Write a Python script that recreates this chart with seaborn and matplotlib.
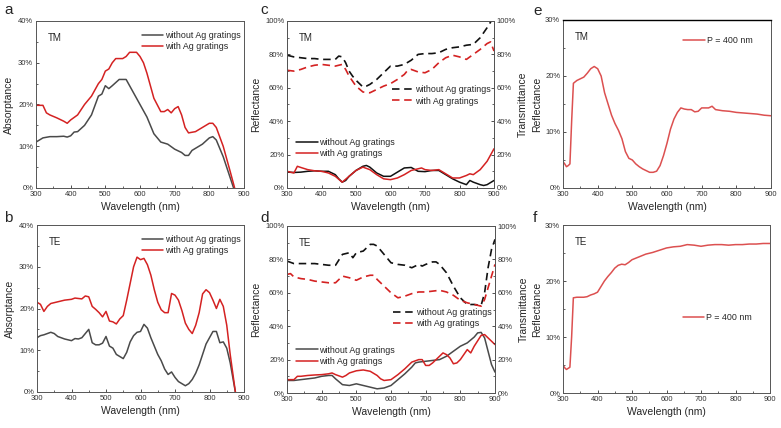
import numpy as np
import pandas as pd
import matplotlib
matplotlib.use("Agg")
import matplotlib.pyplot as plt
from matplotlib.ticker import PercentFormatter, MultipleLocator
import seaborn as sns

# ---- panel a: TM absorptance ----
a_wl_no = [300, 320, 340, 360, 380, 390, 400, 410, 420, 440, 460, 480, 490, 500, 510, 520, 540, 560,
           580, 600, 620, 640, 660, 680, 700, 720, 730, 740, 750, 760, 780, 800, 810, 820, 840, 860, 870]
a_no = [11, 12, 12.3, 12.3, 12.4, 12.2, 12.5, 13.4, 13.5, 15, 17.5, 22, 22.5, 24.5, 23.8, 24.5, 26, 26,
        23, 20, 17, 13, 11, 10.5, 9.3, 8.5, 7.8, 7.8, 9, 9.5, 10.5, 12, 12.3, 11.5, 7.5, 2.5, 0]
a_wl_ag = [300, 320, 330, 340, 360, 380, 390, 400, 420, 440, 460, 480, 490, 500, 510, 520, 530, 540, 550,
           560, 570, 590, 600, 610, 620, 640, 660, 670, 680, 690, 700, 710, 720, 730, 740, 760, 780,
           800, 810, 820, 840, 860, 873]
a_ag = [19.8, 19.8, 18, 17.5, 16.8, 16, 15.5, 16.3, 17.5, 20, 22, 25, 26, 28, 28.5, 30, 31, 31, 31,
        31.5, 32.5, 32.5, 31.5, 30, 27.5, 21.5, 18.3, 18.3, 18.8, 18, 19, 19.5, 17.5, 14.5, 13.2, 13.5, 14.5,
        15.5, 15.5, 14.5, 10, 4, 0]

# ---- panel b: TE absorptance ----
b_wl = [300, 310, 320, 330, 340, 350, 360, 380, 400, 410, 420, 430, 440, 450, 460, 470, 480, 490, 500,
        510, 520, 530, 540, 550, 560, 570, 580, 590, 600, 610, 620, 630, 640, 650, 660, 670, 680, 690,
        700, 710, 720, 730, 740, 750, 760, 770, 780, 790, 800, 810, 820, 830, 840, 850, 860, 875]
b_no = [13, 13.5, 13.7, 14, 14.3, 14, 13.3, 12.7, 12.3, 12.8, 12.7, 13, 14, 15, 11.8, 11.3, 11.3, 11.7, 13.3,
        11, 10.5, 9, 8.5, 8, 9.5, 12, 13.5, 14.3, 14.5, 16.2, 15.3, 13, 11, 9, 7.5, 5.5, 4.2, 4.8,
        3.5, 2.5, 2, 1.5, 2, 3, 4.5, 6.5, 9, 11.5, 13, 14.5, 14.5, 11.8, 12, 10.5, 7, 0]
b_ag = [21.5, 21, 19.3, 20.5, 21.2, 21.4, 21.6, 22, 22.2, 22.5, 22.4, 22.3, 23, 22.8, 20.5, 19.8, 19, 18, 19.3,
        17, 16.8, 16.3, 17.5, 18.3, 22, 26, 30, 32.3, 31.7, 32, 30.5, 28, 24.5, 21.5, 19.7, 19, 19, 23.6,
        23.2, 22, 19.5, 16.5, 15, 14, 16, 19, 23.5, 24.5, 23.8, 22, 20, 22.2, 20.5, 16, 9, 0]

# ---- panel c: TM reflectance (solid) / transmittance (dashed) ----
c_wl_t_no = [300, 320, 340, 360, 380, 400, 420, 440, 450, 460, 470, 480, 490, 500, 520, 530, 540, 560, 580,
             600, 620, 640, 660, 680, 700, 720, 740, 760, 780, 800, 820, 840, 860, 880, 892]
c_t_no = [79.5, 78.5, 78, 77.5, 77.5, 77, 77, 77, 79, 78.5, 75, 70, 67, 64.5, 60.5, 61, 62, 65, 69,
          73, 73, 74, 76.5, 80, 80.5, 80.5, 81, 83, 84, 84.5, 85.5, 86, 90, 96, 100]
c_wl_t_ag = [300, 320, 340, 360, 380, 400, 420, 440, 460, 470, 480, 500, 520, 540, 560, 580, 600, 620, 640,
             650, 660, 680, 700, 720, 740, 760, 780, 800, 820, 840, 860, 880, 890, 900]
c_t_ag = [70.5, 70, 71, 72.5, 73.5, 74, 73.5, 73, 74, 71, 67, 61, 57.5, 57, 59, 61, 62.5, 65, 68,
          70.5, 71, 69.5, 69, 71, 75, 78, 79.5, 78.5, 77, 80, 83, 86.5, 87.5, 82]
c_wl_r_no = [300, 320, 340, 360, 380, 400, 420, 440, 450, 460, 470, 480, 500, 520, 530, 540, 560, 580, 600,
             620, 640, 660, 680, 700, 720, 740, 760, 780, 800, 820, 830, 840, 860, 870, 880, 900]
c_r_no = [9.5, 9.3, 9.5, 10, 10.3, 10, 10, 8, 5.5, 3.5, 4.5, 7, 10.5, 13, 13.5, 12.5, 9, 7, 7,
          9.5, 12, 12.3, 10, 9.8, 10.5, 10.5, 8, 5.5, 3.5, 2, 4.5, 3.5, 2, 1.5, 2, 4.5]
c_wl_r_ag = [300, 320, 330, 340, 360, 380, 400, 420, 440, 460, 480, 500, 520, 540, 560, 580, 600, 620, 640,
             660, 680, 690, 700, 720, 740, 760, 780, 800, 820, 830, 840, 860, 880, 900]
c_r_ag = [10, 9, 13, 12.3, 11, 10.3, 10, 9, 7, 3.5, 7, 10.5, 12.5, 11, 8, 5.5, 5, 6, 8,
          10.5, 11.5, 12, 11, 10.5, 11, 8.5, 6, 6, 7.5, 8.5, 8, 11, 16, 23.5]

# ---- panel d: TE reflectance (solid) / transmittance (dashed) ----
d_wl_t_no = [300, 320, 340, 360, 380, 400, 420, 440, 460, 480, 490, 500, 520, 540, 550, 560, 580, 600, 620,
             640, 660, 680, 690, 700, 720, 730, 740, 760, 780, 800, 820, 840, 860, 870, 880, 890, 900]
d_t_no = [79, 77.5, 77.5, 77.5, 77.5, 77, 76.5, 76.5, 83, 84, 81, 84, 85, 89, 89, 88, 83, 78, 77,
          76.5, 75, 77, 76, 77, 78.5, 78.5, 77, 72, 64, 57, 53, 53, 52.5, 60, 75, 86, 92]
d_wl_t_ag = [300, 310, 320, 340, 360, 380, 400, 420, 440, 460, 480, 500, 520, 540, 550, 560, 580, 600, 620,
             640, 660, 680, 700, 720, 740, 760, 780, 800, 820, 840, 860, 870, 880, 900]
d_t_ag = [71, 71.5, 69.5, 68.5, 68, 67, 66.5, 66, 66, 70, 69, 67.5, 69.5, 70.5, 70.5, 68, 64, 60, 57,
          58, 59.5, 60.5, 60.5, 61, 61.5, 60.5, 58.5, 55.5, 54, 53, 52, 56, 63, 77]
d_wl_r_no = [300, 320, 340, 360, 380, 400, 420, 430, 440, 460, 480, 500, 520, 540, 560, 580, 600, 620, 640,
             660, 670, 680, 700, 720, 740, 760, 780, 800, 820, 840, 850, 860, 870, 880, 890, 900]
d_r_no = [7.5, 7.5, 8, 8.5, 9, 10, 10.5, 10.5, 8.5, 5, 4.5, 5.5, 4.5, 3.5, 2.5, 3, 4.5, 8, 11.5,
          15.5, 18, 18.5, 19, 19.5, 20, 22, 25, 28, 30, 33.5, 36, 36.3, 33, 25, 17, 12.5]
d_wl_r_ag = [300, 320, 330, 340, 360, 380, 400, 420, 430, 440, 460, 470, 480, 500, 520, 540, 560, 570, 580,
             600, 620, 640, 660, 680, 690, 700, 710, 720, 740, 750, 760, 770, 780, 790, 800, 820, 830, 840,
             860, 870, 880, 900]
d_r_ag = [8, 8, 10, 10, 10.5, 10.8, 11, 11.5, 12, 11, 9.5, 10.5, 12, 13.3, 13.8, 13, 10.5, 8.5, 7.5,
          8, 11, 14.5, 18.5, 20, 20, 16.5, 16.5, 18, 22, 24, 23, 21, 17.5, 18, 20, 26, 24, 28,
          34.5, 35, 33, 29]

# ---- panels e/f: P = 400 nm reflectance ----
e_wl = [300, 305, 310, 315, 320, 325, 330, 340, 350, 360, 370, 380, 390, 400, 410, 420, 430, 440, 450,
        460, 470, 480, 490, 500, 510, 520, 530, 540, 550, 560, 570, 580, 590, 600, 610, 620, 630, 640,
        650, 660, 670, 680, 690, 700, 720, 730, 740, 760, 780, 800, 820, 840, 860, 880, 900]
e_r = [4.7, 4.3, 3.8, 4, 4.3, 12, 18.7, 19.2, 19.5, 19.8, 20.5, 21.3, 21.7, 21.3, 20, 17, 15, 13, 11.5,
       10.3, 8.8, 6.5, 5.3, 5, 4.3, 3.8, 3.4, 3.1, 2.8, 2.8, 3, 4, 5.8, 8, 10.5, 12.3, 13.5, 14.3,
       14.1, 14, 14, 13.6, 13.7, 14.3, 14.3, 14.6, 14, 13.8, 13.7, 13.5, 13.4, 13.3, 13.2, 13, 12.9]
f_wl = [300, 305, 310, 315, 320, 325, 330, 340, 360, 370, 380, 390, 400, 410, 420, 430, 440, 450, 460,
        470, 480, 490, 500, 520, 540, 560, 580, 600, 620, 640, 660, 680, 700, 720, 740, 760, 780, 800,
        820, 840, 860, 880, 900]
f_r = [5, 4.5, 4.2, 4.4, 4.6, 10, 17, 17.1, 17.1, 17.2, 17.5, 17.7, 18, 19, 20, 20.8, 21.5, 22.3, 22.8,
       23, 22.9, 23.3, 23.8, 24.3, 24.8, 25.1, 25.5, 25.9, 26.1, 26.2, 26.5, 26.4, 26.2, 26.4, 26.5, 26.5, 26.4, 26.5,
       26.5, 26.6, 26.6, 26.7, 26.7]

sns.set_theme(style="ticks")
plt.rcParams["font.family"] = ["Liberation Sans", "DejaVu Sans"]

GRAY = "#4a4a4a"
BLACK = "#111111"
RED = "#d42222"
LRED = "#dc5050"
DASH = (0, (4.5, 2.8))
TICK_FS = 5.5
LAB_FS = 7.5
LEG_FS = 6.4
TAG_FS = 7

fig = plt.figure(figsize=(7.81, 4.28), dpi=100)
W, H = 781, 428


def make_ax(x0, y0, x1, y1):
    return fig.add_axes([x0 / W, 1 - y1 / H, (x1 - x0) / W, (y1 - y0) / H])


def style(ax, ymax, ymajor, yminor):
    ax.set_xlim(300, 900)
    ax.set_ylim(0, ymax)
    ax.xaxis.set_major_locator(MultipleLocator(100))
    ax.xaxis.set_minor_locator(MultipleLocator(50))
    ax.yaxis.set_major_locator(MultipleLocator(ymajor))
    ax.yaxis.set_minor_locator(MultipleLocator(yminor))
    ax.yaxis.set_major_formatter(PercentFormatter(100, decimals=0))
    ax.tick_params(which="major", direction="in", length=2.5, width=0.6, labelsize=TICK_FS,
                   pad=2, colors="#333333", right=False, top=False)
    ax.tick_params(which="minor", direction="in", length=1.5, width=0.5, right=False, top=False)
    for s in ax.spines.values():
        s.set_linewidth(0.7)
        s.set_color("#555555")
    ax.set_xlabel("Wavelength (nm)", fontsize=LAB_FS, labelpad=3)


def line(ax, x, y, color, ls="-", lw=1.1):
    sns.lineplot(x=x, y=y, ax=ax, color=color, linestyle=ls, linewidth=lw, legend=False)


def add_legend(ax, handles, labels, loc, anchor):
    return ax.legend(handles, labels, loc=loc, bbox_to_anchor=anchor, frameon=False,
                     fontsize=LEG_FS, handlelength=2.4, handletextpad=0.2, labelspacing=0.25,
                     borderaxespad=0, borderpad=0)


def tag(ax, txt):
    ax.text(0.055, 0.9, txt, transform=ax.transAxes, fontsize=TAG_FS, va="center")


# a
ax = make_ax(36, 21, 244, 188)
line(ax, a_wl_no, a_no, GRAY)
line(ax, a_wl_ag, a_ag, RED)
style(ax, 40, 10, 5)
ax.set_ylabel("Absorptance", fontsize=LAB_FS, labelpad=3)
tag(ax, "TM")
add_legend(ax, ax.lines, ["without Ag gratings", "with Ag gratings"], "upper right", (0.985, 0.94))

# b
ax = make_ax(37, 225, 244, 392)
line(ax, b_wl, b_no, GRAY)
line(ax, b_wl, b_ag, RED)
style(ax, 40, 10, 5)
ax.set_ylabel("Absorptance", fontsize=LAB_FS, labelpad=3)
tag(ax, "TE")
add_legend(ax, ax.lines, ["without Ag gratings", "with Ag gratings"], "upper right", (0.985, 0.94))


def rt_panel(box, txt, wl_r_no, r_no, wl_r_ag, r_ag, wl_t_no, t_no, wl_t_ag, t_ag, r_col,
             dash_anchor, solid_anchor):
    ax = make_ax(*box)
    line(ax, wl_r_no, r_no, r_col)
    line(ax, wl_r_ag, r_ag, RED)
    style(ax, 100, 20, 10)
    ax.set_ylabel("Reflectance", fontsize=LAB_FS, labelpad=3)
    tag(ax, txt)
    labels = ["without Ag gratings", "with Ag gratings"]
    add_legend(ax, ax.lines, labels, "lower left", solid_anchor)
    axr = ax.twinx()
    line(axr, wl_t_no, t_no, BLACK, ls=DASH, lw=1.2)
    line(axr, wl_t_ag, t_ag, RED, ls=DASH, lw=1.2)
    axr.set_ylim(0, 100)
    axr.yaxis.set_major_locator(MultipleLocator(20))
    axr.yaxis.set_minor_locator(MultipleLocator(10))
    axr.yaxis.set_major_formatter(PercentFormatter(100, decimals=0))
    axr.tick_params(which="major", direction="in", length=2.5, width=0.6, labelsize=TICK_FS,
                    pad=2, colors="#333333")
    axr.tick_params(which="minor", direction="in", length=1.5, width=0.5)
    for s in axr.spines.values():
        s.set_linewidth(0.7)
        s.set_color("#555555")
    axr.set_ylabel("Transmittance", fontsize=LAB_FS, labelpad=1)
    add_legend(axr, axr.lines, labels, "upper right", dash_anchor)


# c
rt_panel((287, 21, 494, 188), "TM", c_wl_r_no, c_r_no, c_wl_r_ag, c_r_ag,
         c_wl_t_no, c_t_no, c_wl_t_ag, c_t_ag, BLACK, (0.985, 0.615), (0.045, 0.18))
# d
rt_panel((287, 226, 495, 393), "TE", d_wl_r_no, d_r_no, d_wl_r_ag, d_r_ag,
         d_wl_t_no, d_t_no, d_wl_t_ag, d_t_ag, GRAY, (0.985, 0.51), (0.045, 0.163))

# e
ax = make_ax(563, 20, 771, 188)
line(ax, e_wl, e_r, LRED)
style(ax, 30, 10, 5)
ax.spines["top"].set_color("black")
ax.spines["top"].set_linewidth(1.0)
ax.set_ylabel("Reflectance", fontsize=LAB_FS, labelpad=2)
tag(ax, "TM")
add_legend(ax, ax.lines, ["P = 400 nm"], "center right", (0.91, 0.875))

# f
ax = make_ax(563, 225, 770, 393)
line(ax, f_wl, f_r, LRED)
style(ax, 30, 10, 5)
ax.set_ylabel("Reflectance", fontsize=LAB_FS, labelpad=2)
tag(ax, "TE")
add_legend(ax, ax.lines, ["P = 400 nm"], "center right", (0.91, 0.45))

# panel letters
for letter, x, y in [("a", 4, 3), ("b", 4, 211), ("c", 260, 3), ("d", 260, 211),
                     ("e", 533, 4), ("f", 533, 211)]:
    fig.text(x / W, 1 - y / H, letter, fontsize=11, va="top", ha="left")

fig.savefig("out.png", dpi=100)
